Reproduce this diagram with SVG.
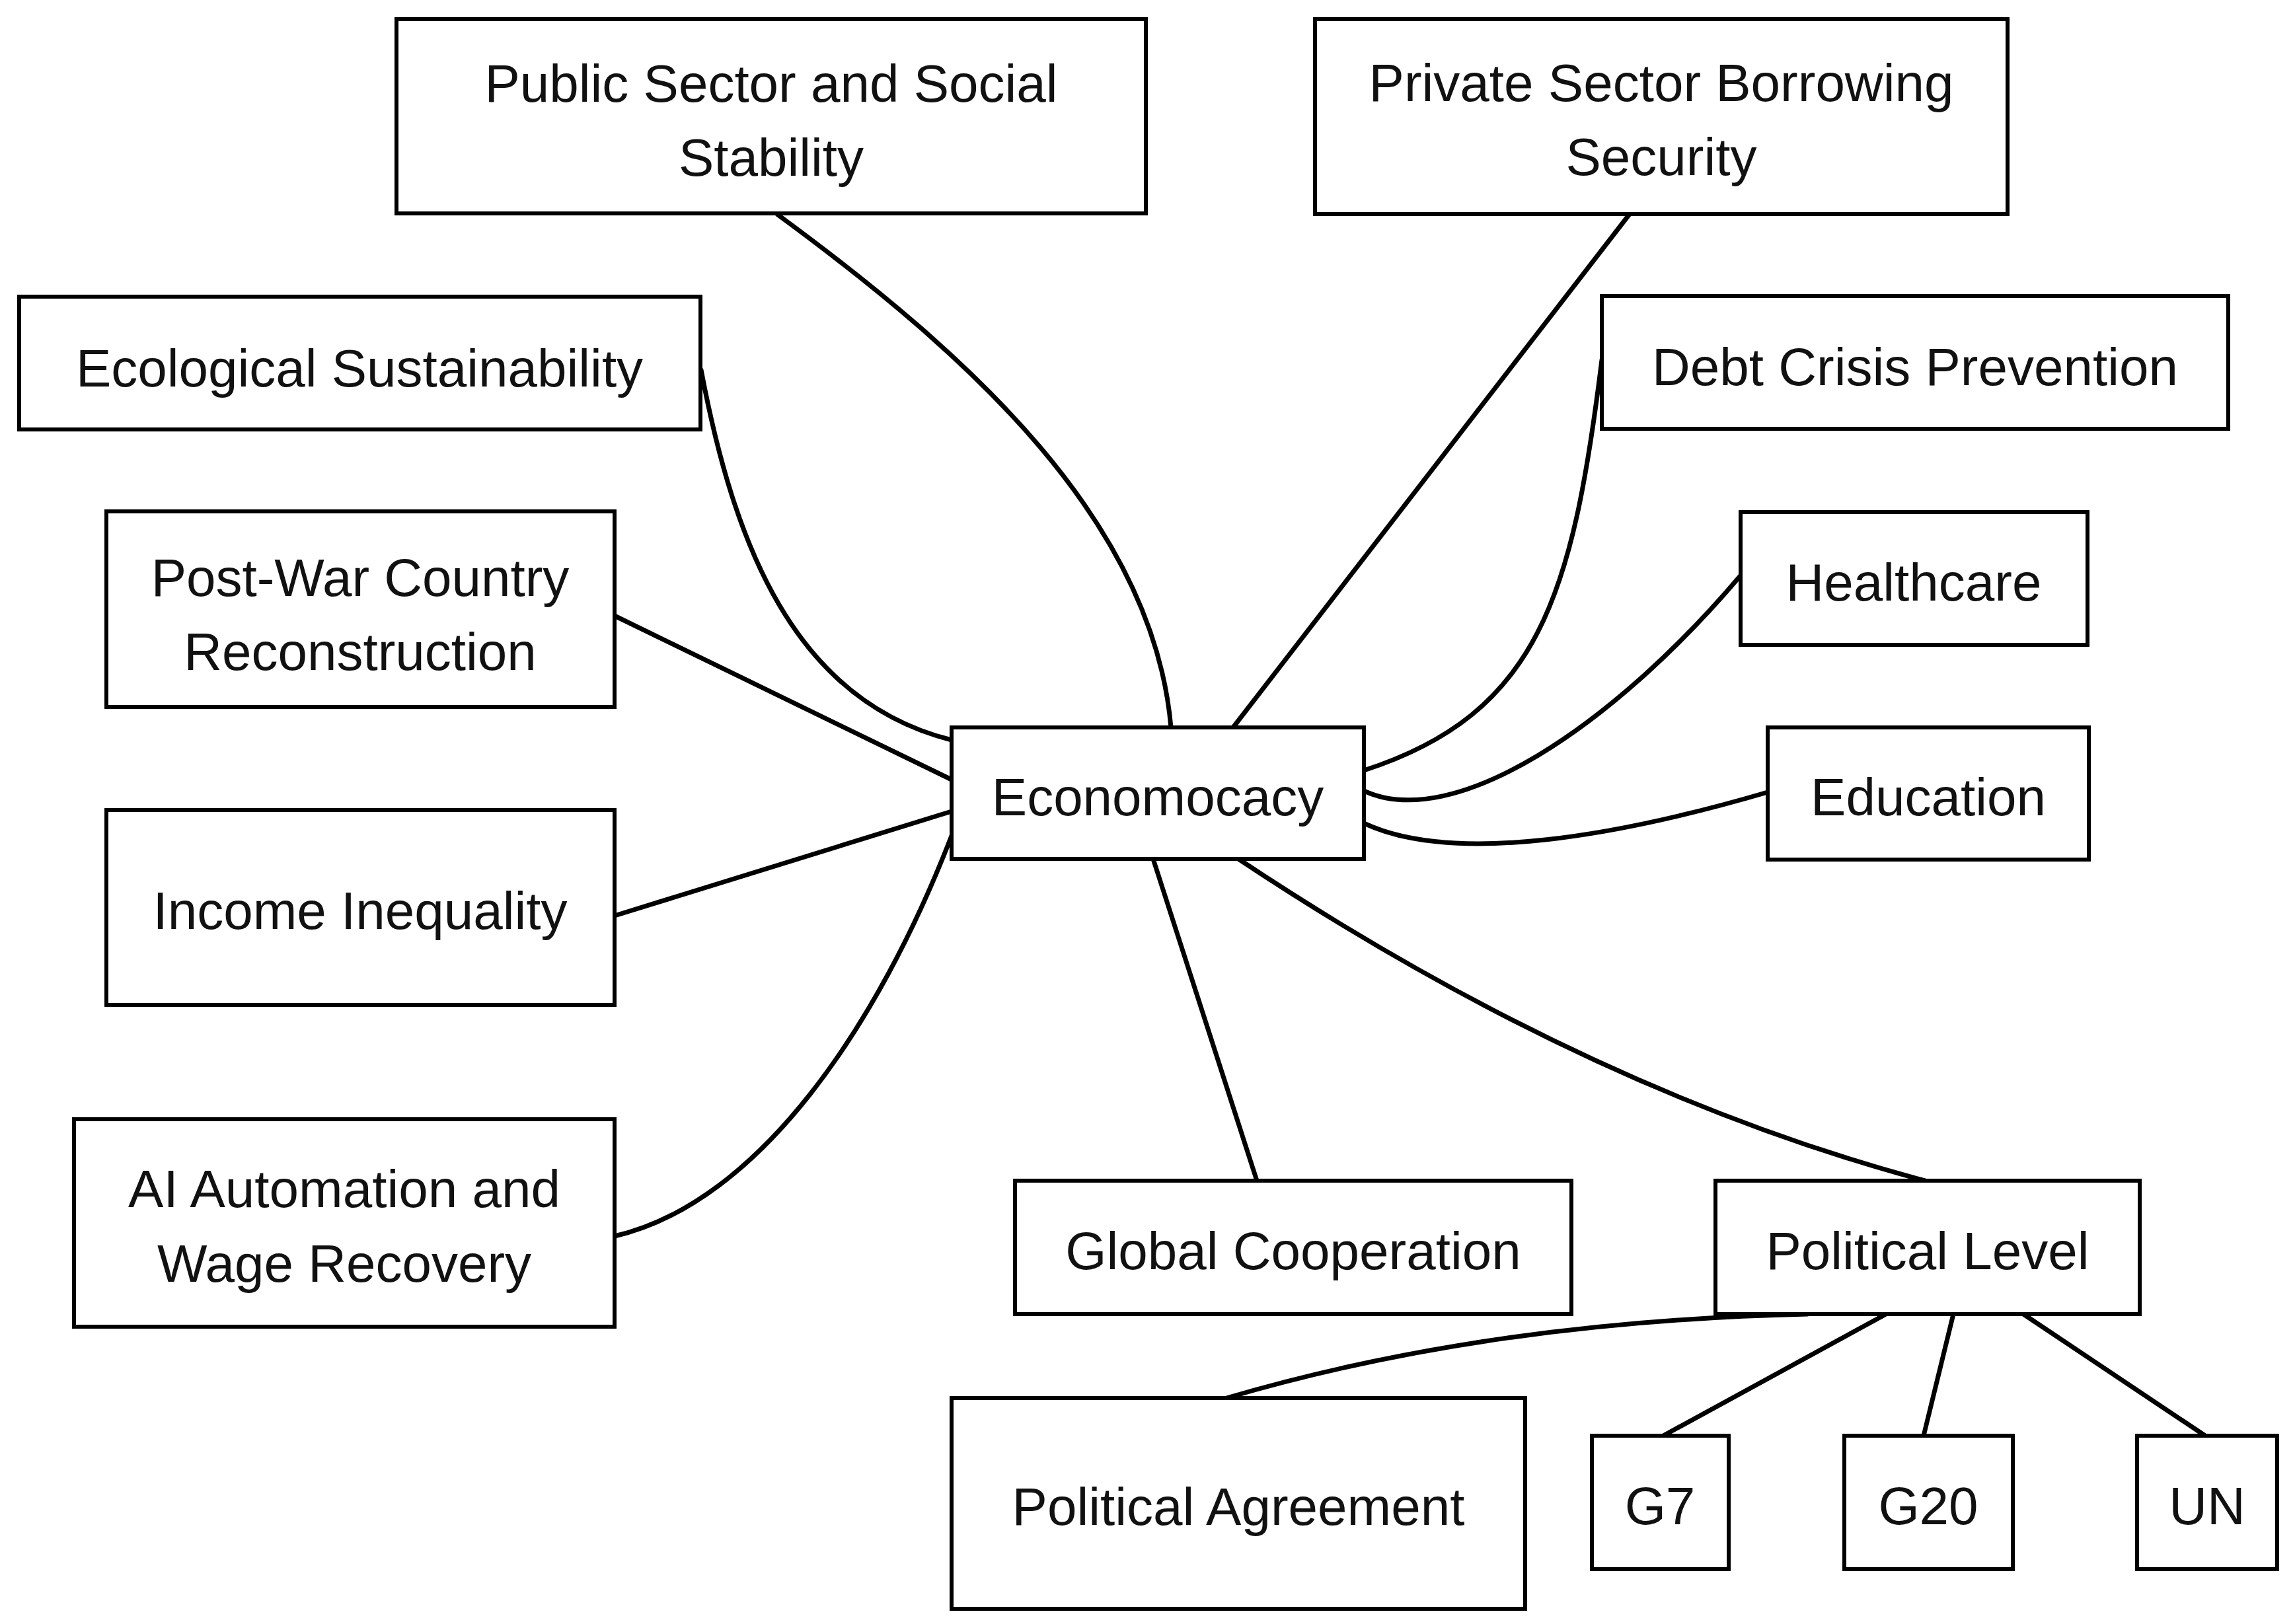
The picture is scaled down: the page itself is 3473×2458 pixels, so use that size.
<svg xmlns="http://www.w3.org/2000/svg" width="3473" height="2458" viewBox="0 0 3473 2458">
<style>
.box{fill:#ffffff;stroke:#000000;stroke-width:6}
.lbl{font-family:"Liberation Sans","DejaVu Sans",sans-serif;font-size:80px;fill:#111111;text-anchor:middle}
.edge{fill:none;stroke:#000000;stroke-width:7;stroke-linecap:round}
</style>
<rect x="0" y="0" width="3473" height="2458" fill="#ffffff"/>
<g id="connectors">
<path class="edge" d="M1177,325 C1470,540 1745,790 1772,1101"/>
<path class="edge" d="M1061,560 C1110,820 1200,1060 1440,1120"/>
<path class="edge" d="M930,932 L1440,1180"/>
<path class="edge" d="M930,1386 L1440,1228"/>
<path class="edge" d="M930,1871 C1150,1820 1330,1550 1440,1265"/>
<path class="edge" d="M2466,324 L1866,1101"/>
<path class="edge" d="M2424,545 C2380,900 2330,1080 2064,1166"/>
<path class="edge" d="M2634,871 C2440,1100 2200,1260 2064,1197"/>
<path class="edge" d="M2675,1199 C2450,1265 2200,1310 2064,1246"/>
<path class="edge" d="M1745,1300 L1902,1787"/>
<path class="edge" d="M1874,1300 Q2400,1650 2913,1787"/>
<path class="edge" d="M2735,1989 Q2250,2000 1856,2116"/>
<path class="edge" d="M2854,1989 L2517,2173"/>
<path class="edge" d="M2956,1989 L2911,2173"/>
<path class="edge" d="M3062,1989 L3337,2173"/>
</g>
<g id="public-sector">
<rect class="box" x="600" y="29" width="1134" height="294"/>
<text class="lbl" x="1167" y="154">Public Sector and Social</text>
<text class="lbl" x="1167" y="266">Stability</text>
</g>
<g id="private-sector">
<rect class="box" x="1990" y="29" width="1048" height="295"/>
<text class="lbl" x="2514" y="153">Private Sector Borrowing</text>
<text class="lbl" x="2514" y="265">Security</text>
</g>
<g id="ecological">
<rect class="box" x="29" y="449" width="1031" height="201"/>
<text class="lbl" x="544" y="585">Ecological Sustainability</text>
</g>
<g id="debt-crisis">
<rect class="box" x="2424" y="448" width="948" height="201"/>
<text class="lbl" x="2898" y="583">Debt Crisis Prevention</text>
</g>
<g id="post-war">
<rect class="box" x="161" y="774" width="769" height="296"/>
<text class="lbl" x="545" y="902">Post-War Country</text>
<text class="lbl" x="545" y="1014">Reconstruction</text>
</g>
<g id="healthcare">
<rect class="box" x="2634" y="775" width="525" height="201"/>
<text class="lbl" x="2896" y="909">Healthcare</text>
</g>
<g id="economocacy">
<rect class="box" x="1440" y="1101" width="624" height="199"/>
<text class="lbl" x="1752" y="1234">Economocacy</text>
</g>
<g id="education">
<rect class="box" x="2675" y="1101" width="486" height="200"/>
<text class="lbl" x="2918" y="1234">Education</text>
</g>
<g id="income-inequality">
<rect class="box" x="161" y="1226" width="769" height="295"/>
<text class="lbl" x="545" y="1406">Income Inequality</text>
</g>
<g id="ai-automation">
<rect class="box" x="112" y="1694" width="818" height="314"/>
<text class="lbl" x="521" y="1827">AI Automation and</text>
<text class="lbl" x="521" y="1940">Wage Recovery</text>
</g>
<g id="global-cooperation">
<rect class="box" x="1536" y="1787" width="842" height="202"/>
<text class="lbl" x="1957" y="1921">Global Cooperation</text>
</g>
<g id="political-level">
<rect class="box" x="2596" y="1787" width="642" height="202"/>
<text class="lbl" x="2917" y="1921">Political Level</text>
</g>
<g id="political-agreement">
<rect class="box" x="1440" y="2116" width="868" height="319"/>
<text class="lbl" x="1874" y="2308">Political Agreement</text>
</g>
<g id="g7">
<rect class="box" x="2409" y="2173" width="207" height="202"/>
<text class="lbl" x="2512" y="2307">G7</text>
</g>
<g id="g20">
<rect class="box" x="2791" y="2173" width="255" height="202"/>
<text class="lbl" x="2918" y="2307">G20</text>
</g>
<g id="un">
<rect class="box" x="3234" y="2173" width="212" height="202"/>
<text class="lbl" x="3340" y="2307">UN</text>
</g>
</svg>
